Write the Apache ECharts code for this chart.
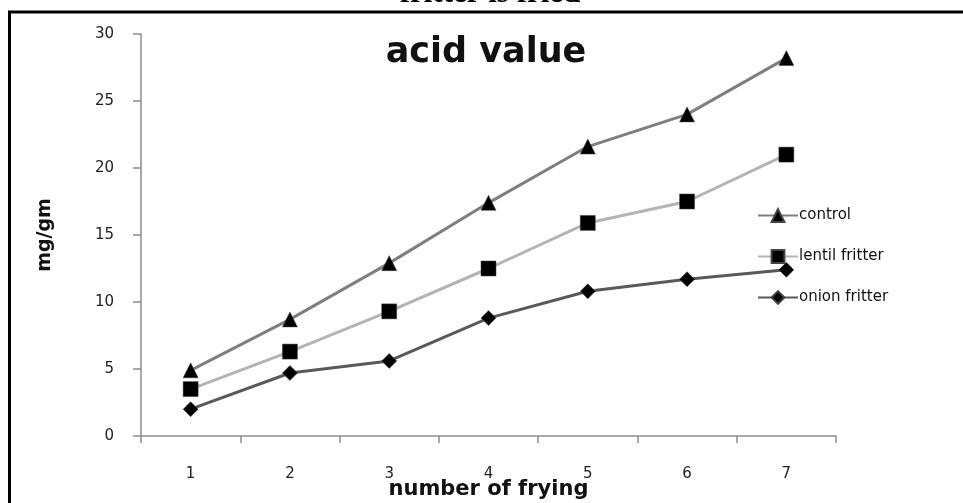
<!DOCTYPE html>
<html>
<head>
<meta charset="utf-8">
<script src="https://cdn.jsdelivr.net/npm/echarts@6/dist/echarts.min.js"></script>
<style>
  html, body { margin: 0; padding: 0; background: #fff; }
  #chart { width: 963px; height: 503px; }
</style>
</head>
<body>
<div id="chart"></div>
<script>
// data
const fryings = ['1', '2', '3', '4', '5', '6', '7']
const control = [4.9, 8.7, 12.9, 17.4, 21.6, 24.0, 28.2]
const lentilFritter = [3.5, 6.3, 9.3, 12.5, 15.9, 17.5, 21.0]
const onionFritter = [2.0, 4.7, 5.6, 8.8, 10.8, 11.7, 12.4]
const yTicks = [0, 5, 10, 15, 20, 25, 30]

const myChart = echarts.init(document.getElementById('chart'))

const labelFont = 'DejaVu Sans'

function lineSeries(name, data, color, symbol, size) {
  return {
    name: name,
    type: 'line',
    data: data,
    symbol: symbol,
    symbolSize: size,
    lineStyle: { color: color, width: 3 },
    itemStyle: { color: '#000', borderColor: '#444', borderWidth: 0.5 }
  }
}

const option = {
  animation: false,
  backgroundColor: '#fff',
  title: {
    text: 'acid value',
    left: 481,
    top: 30,
    textAlign: 'center',
    textStyle: { fontFamily: labelFont, fontWeight: 'bold', fontSize: 35, color: '#111' }
  },
  graphic: [
    // frame of the figure
    {
      type: 'rect',
      shape: { x: 9.5, y: 12, width: 1000, height: 600 },
      style: { fill: 'none', stroke: '#000', lineWidth: 3 }
    },
    // caption text cut off at the top
    {
      type: 'text',
      x: 490,
      y: 9,
      style: {
        text: 'fritter is fried',
        align: 'center',
        verticalAlign: 'bottom',
        fontFamily: 'Liberation Serif',
        fontWeight: 'bold',
        fontSize: 31,
        fill: '#000'
      }
    }
  ],
  legend: {
    orient: 'vertical',
    left: 752,
    top: 203,
    itemGap: 26,
    itemWidth: 40,
    itemHeight: 16,
    textStyle: { fontFamily: labelFont, fontSize: 15, color: '#111', padding: [0, 0, 0, -4] },
    data: ['control', 'lentil fritter', 'onion fritter']
  },
  grid: { left: 141, right: 127, top: 34, bottom: 67, containLabel: false, outerBoundsMode: 'none' },
  xAxis: {
    type: 'category',
    data: fryings,
    boundaryGap: true,
    name: 'number of frying',
    nameLocation: 'middle',
    nameGap: 43,
    nameMoveOverlap: false,
    nameTextStyle: { fontFamily: labelFont, fontWeight: 'bold', fontSize: 21, color: '#111' },
    axisLine: { lineStyle: { color: '#8c8c8c', width: 1.5 } },
    axisTick: { show: true, length: 7, lineStyle: { color: '#8c8c8c', width: 1.5 } },
    axisLabel: { margin: 31, fontFamily: labelFont, fontSize: 15, color: '#222' },
    splitLine: { show: false }
  },
  yAxis: {
    type: 'value',
    min: yTicks[0],
    max: yTicks[yTicks.length - 1],
    interval: 5,
    name: 'mg/gm',
    nameLocation: 'middle',
    nameGap: 86,
    nameMoveOverlap: false,
    nameTextStyle: { fontFamily: labelFont, fontWeight: 'bold', fontSize: 19, color: '#111' },
    axisLine: { show: true, lineStyle: { color: '#8c8c8c', width: 1.5 } },
    axisTick: { show: true, length: 8, lineStyle: { color: '#8c8c8c', width: 1.5 } },
    axisLabel: { margin: 27, fontFamily: labelFont, fontSize: 15, color: '#222' },
    splitLine: { show: false }
  },
  series: [
    lineSeries('control', control, '#7f7f7f', 'triangle', 15),
    lineSeries('lentil fritter', lentilFritter, '#b4b4b4', 'rect', 15),
    lineSeries('onion fritter', onionFritter, '#595959', 'diamond', 15)
  ]
}

myChart.setOption(option)
</script>
</body>
</html>
